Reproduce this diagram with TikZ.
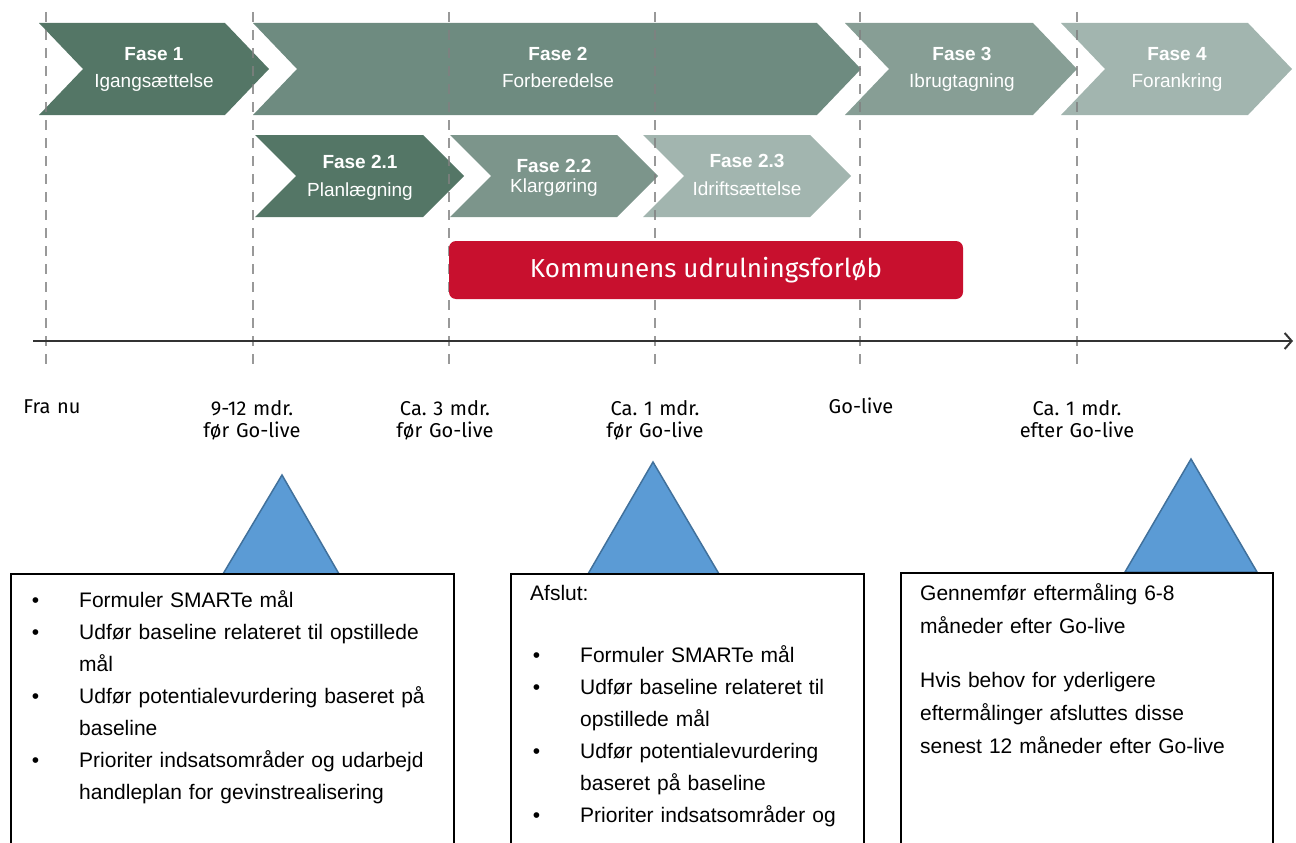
\documentclass[tikz,border=0pt]{standalone}
\usepackage{fontspec}
\usepackage{tikz}
\usetikzlibrary{arrows.meta}
\setmainfont{Liberation Sans}
\newfontfamily\firafont{Fira Sans}
\frenchspacing
\definecolor{faseA}{RGB}{84,118,102}
\definecolor{faseB}{RGB}{110,139,128}
\definecolor{faseC}{RGB}{135,158,149}
\definecolor{faseCC}{RGB}{124,149,139}
\definecolor{faseD}{RGB}{162,181,175}
\definecolor{udrulred}{RGB}{200,16,46}
\definecolor{trifill}{RGB}{91,155,213}
\definecolor{triedge}{RGB}{65,113,156}
\tikzstyle{fasehead}=[anchor=base,inner sep=0pt,text=white,font=\fontsize{19}{23}\selectfont\bfseries]
\tikzstyle{fasesub}=[anchor=base,inner sep=0pt,text=white,font=\fontsize{19}{23}\selectfont]
\tikzstyle{milestone}=[anchor=base,inner sep=0pt,align=center,text width=160pt,font=\firafont\fontsize{20}{22}\selectfont]
\tikzstyle{gridline}=[dash pattern=on 10pt off 8pt,line width=2pt,draw=gray,draw opacity=0.8]
\tikzstyle{axis}=[line width=2pt,draw=black!80,-{Straight Barb[length=7pt,width=16pt,line width=2pt]}]
\tikzstyle{udrul}=[fill=udrulred,rounded corners=7pt,minimum width=514pt,minimum height=58pt,text=white,font=\firafont\fontsize{26}{30}\selectfont]
\tikzstyle{infobox}=[draw,line width=1.5pt,fill=white,anchor=north west,minimum height=320pt,inner sep=0pt]
\tikzstyle{infotext}=[anchor=base west,inner sep=0pt,align=left,font=\fontsize{21}{32}\selectfont]
\tikzstyle{tri}=[fill=trifill,draw=triedge,line width=1.5pt]
\def\chevron#1#2#3#4#5#6{\fill[#6] (#1,#3) -- (#2,#3) -- ({#2+#5},{(#3+#4)/2}) -- (#2,#4) -- (#1,#4) -- ({#1+#5},{(#3+#4)/2}) -- cycle;}
\def\bul{\leavevmode\llap{\textbullet\hspace{40pt}}}

\begin{document}
\begin{tikzpicture}[x=1pt,y=-1pt]
  \useasboundingbox (0,0) rectangle (1296,843);
  \clip (0,0) rectangle (1296,843);

  % faser
  \chevron{39}{225}{23}{115}{44}{faseA}
  \chevron{253}{817}{23}{115}{44}{faseB}
  \chevron{845}{1033}{23}{115}{44}{faseC}
  \chevron{1061}{1248}{23}{115}{44}{faseD}
  \chevron{255}{423}{135}{217}{41}{faseA}
  \chevron{450}{617}{135}{217}{41}{faseCC}
  \chevron{643}{810}{135}{217}{41}{faseD}

  \node [fasehead] (F1) at (154,60) {Fase 1};
  \node [fasesub] (F1t) at (154,88) {Igangsættelse};
  \node [fasehead] (F2) at (558,60) {Fase 2};
  \node [fasesub] (F2t) at (558,88) {Forberedelse};
  \node [fasehead] (F3) at (962,60) {Fase 3};
  \node [fasesub] (F3t) at (962,88) {Ibrugtagning};
  \node [fasehead] (F4) at (1177,60) {Fase 4};
  \node [fasesub] (F4t) at (1177,88) {Forankring};
  \node [fasehead] (F21) at (360,168) {Fase 2.1};
  \node [fasesub] (F21t) at (360,196) {Planlægning};
  \node [fasehead] (F22) at (554,172) {Fase 2.2};
  \node [fasesub] (F22t) at (554,192) {Klargøring};
  \node [fasehead] (F23) at (747,167) {Fase 2.3};
  \node [fasesub] (F23t) at (747,195) {Idriftsættelse};

  \foreach \x in {46,253,449,655,860,1077}
    \draw [gridline] (\x,12) -- (\x,368);

  \node [udrul] (U) at (706,270) {Kommunens udrulningsforløb};

  \coordinate (A0) at (33,341);
  \coordinate (A1) at (1293,341);
  \draw [axis] (A0) -- (A1);

  \node [milestone] (M0) at (52,413) {Fra nu};
  \node [milestone] (M1) at (252,415) {9-12 mdr.\\før Go-live};
  \node [milestone] (M2) at (445,415) {Ca. 3 mdr.\\før Go-live};
  \node [milestone] (M3) at (655,415) {Ca. 1 mdr.\\før Go-live};
  \node [milestone] (M4) at (861,413) {Go-live};
  \node [milestone] (M5) at (1077,415) {Ca. 1 mdr.\\efter Go-live};

  \draw [tri] (223,574) -- (282,475) -- (339,574) -- cycle;
  \draw [tri] (588,574) -- (653,462) -- (719,574) -- cycle;
  \draw [tri] (1125,572) -- (1191,459) -- (1257,572) -- cycle;

  \node [infobox, minimum width=443pt] (B1) at (10,573) {};
  \node [infobox, minimum width=353pt] (B2) at (510,573) {};
  \node [infobox, minimum width=372pt] (B3) at (900,572) {};

  \node [infotext, text width=374pt] (B1t) at (79,607) {\bul Formuler SMARTe mål\\
    \bul Udfør baseline relateret til opstillede\\ mål\\
    \bul Udfør potentialevurdering baseret på\\ baseline\\
    \bul Prioriter indsatsområder og udarbejd\\ handleplan for gevinstrealisering};
  \node [infotext, text width=330pt] (B2h) at (530,600) {Afslut:};
  \node [infotext, text width=282pt] (B2t) at (580,662) {\bul Formuler SMARTe mål\\
    \bul Udfør baseline relateret til\\ opstillede mål\\
    \bul Udfør potentialevurdering\\ baseret på baseline\\
    \bul Prioriter indsatsområder og};
  \node [infotext, text width=350pt, font=\fontsize{21}{33}\selectfont] (B3t) at (920,600) {Gennemfør eftermåling 6-8\\ måneder efter Go-live\\[21pt]
    Hvis behov for yderligere\\ eftermålinger afsluttes disse\\ senest 12 måneder efter Go-live};
\end{tikzpicture}
\end{document}
